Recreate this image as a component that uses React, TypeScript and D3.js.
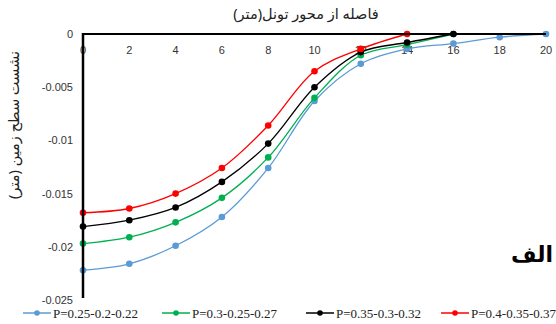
import React from "react";
import * as d3 from "d3";

const xs = [0, 2, 4, 6, 8, 10, 12, 14, 16, 18, 20];
const blueVals = [-0.0222, -0.0216, -0.0199, -0.0172, -0.0126, -0.0063, -0.0028, -0.0014, -0.0009, -0.0003, 0];
const greenVals = [-0.0197, -0.0191, -0.0177, -0.0154, -0.0116, -0.006, -0.002, -0.001, 0];
const blackVals = [-0.0181, -0.0175, -0.0163, -0.0139, -0.0103, -0.005, -0.0017, -0.0008, 0];
const redVals = [-0.0168, -0.0164, -0.015, -0.0126, -0.0086, -0.0035, -0.0014, 0];
const seriesNames = ["P=0.25-0.2-0.22", "P=0.3-0.25-0.27", "P=0.35-0.3-0.32", "P=0.4-0.35-0.37"];
const seriesColors = ["#5b9bd5", "#00b050", "#000000", "#ff0000"];
const xTicks = [0, 2, 4, 6, 8, 10, 12, 14, 16, 18, 20];
const yTicks = [0, -0.005, -0.01, -0.015, -0.02, -0.025];
const xTitle = "فاصله از محور تونل(متر)";
const yTitle = "نشست سطح زمین (متر)";
const panelLabel = "الف";

export default function App() {
  const W = 556, H = 324;
  const x = d3.scaleLinear().domain([0, 20]).range([83, 546]);
  const y = d3.scaleLinear().domain([0, -0.025]).range([34, 300]);
  const all = [blueVals, greenVals, blackVals, redVals];
  const line = d3
    .line<[number, number]>()
    .x((d) => x(d[0]))
    .y((d) => y(d[1]))
    .curve(d3.curveCatmullRom.alpha(0.5));
  const legendX = [23, 162, 306, 441];
  return (
    <svg width={W} height={H} style={{ position: "absolute", left: 0, top: 0, background: "#fff" }}>
      <rect width={W} height={H} fill="#fff" />
      <text x={306} y={19} textAnchor="middle" fontFamily="'Noto Sans', 'DejaVu Sans', sans-serif" fontSize={14.5} fill="#222">
        {xTitle}
      </text>
      <text
        transform={`translate(19,${125}) rotate(-90)`}
        textAnchor="middle"
        fontFamily="'Noto Sans', 'DejaVu Sans', sans-serif"
        fontSize={14.5}
        fill="#222"
      >
        {yTitle}
      </text>
      {yTicks.map((t) => (
        <text key={t} x={73} y={y(t) + 4} textAnchor="end" fontFamily="'Liberation Sans', Arial, sans-serif" fontSize={11} fill="#333">
          {t === 0 ? "0" : String(t)}
        </text>
      ))}
      {xTicks.map((t) => (
        <text key={t} x={x(t)} y={54} textAnchor="middle" fontFamily="'Liberation Sans', Arial, sans-serif" fontSize={11} fill="#333">
          {t}
        </text>
      ))}
      {all.map((vals, i) => {
        const pts: [number, number][] = vals.map((v, j) => [xs[j], v]);
        return (
          <g key={i}>
            <path d={line(pts) || ""} fill="none" stroke={seriesColors[i]} strokeWidth={1.3} />
            {pts.map((p, j) => (
              <circle key={j} cx={x(p[0])} cy={y(p[1])} r={3.3} fill={seriesColors[i]} />
            ))}
          </g>
        );
      })}
      <line x1={x(0)} x2={x(20)} y1={y(0)} y2={y(0)} stroke="#000" strokeWidth={2.2} />
      <line x1={x(0)} x2={x(0)} y1={y(0) - 1} y2={y(-0.025) - 2} stroke="#000" strokeWidth={2.5} />
      <text x={553} y={262} textAnchor="end" fontFamily="'Noto Sans', 'DejaVu Sans', sans-serif" fontSize={22} fontWeight="bold" fill="#000">
        {panelLabel}
      </text>
      {seriesNames.map((n, i) => (
        <g key={n}>
          <line x1={legendX[i]} x2={legendX[i] + 28} y1={313} y2={313} stroke={seriesColors[i]} strokeWidth={1.5} />
          <circle cx={legendX[i] + 14} cy={313} r={2.8} fill={seriesColors[i]} />
          <text x={legendX[i] + 30} y={317.5} fontFamily="'Liberation Serif', 'Times New Roman', serif" fontSize={13} fill="#222">
            {n}
          </text>
        </g>
      ))}
    </svg>
  );
}
